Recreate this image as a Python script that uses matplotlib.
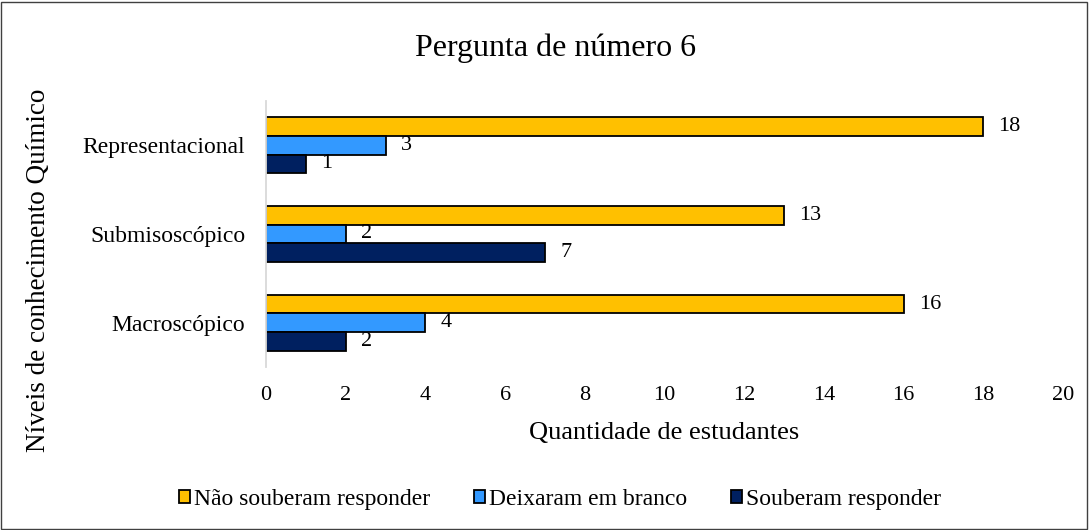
import numpy as np
import matplotlib.pyplot as plt
from matplotlib.patches import Rectangle

plt.rcParams['font.family'] = ['Liberation Serif', 'DejaVu Serif']

categorias = ['Macroscópico', 'Submisoscópico', 'Representacional']
nao_souberam = [16, 13, 18]
em_branco = [4, 2, 3]
souberam = [2, 7, 1]
series = ['Não souberam responder', 'Deixaram em branco', 'Souberam responder']
cores = ['#FFC000', '#3399FF', '#002060']

fig = plt.figure(figsize=(10.89, 5.30), dpi=100)
ax = fig.add_axes([0.2443, 0.3075, 0.7318, 0.502])

y = np.arange(len(categorias))
h = 0.21
valores = [nao_souberam, em_branco, souberam]
offsets = [h, 0, -h]
for vals, off, cor, nome in zip(valores, offsets, cores, series):
    bars = ax.barh(y + off, vals, height=h, color=cor, edgecolor='black',
                   linewidth=1.3, label=nome)
    for b, v in zip(bars, vals):
        ax.text(b.get_width() + 0.38, b.get_y() + b.get_height() / 2, str(v),
                va='center', ha='left', fontsize=16)

ax.set_xlim(0, 20)
ax.set_ylim(-0.5, 2.5)
ax.set_xticks(range(0, 21, 2))
ax.set_yticks(y)
ax.set_yticklabels(categorias)
ax.tick_params(axis='y', length=0, labelsize=17, pad=15)
ax.tick_params(axis='x', length=0, labelsize=16, pad=14)
for s in ['top', 'right', 'bottom']:
    ax.spines[s].set_visible(False)
ax.spines['left'].set_color('#D9D9D9')
ax.spines['left'].set_linewidth(1.3)

ax.set_xlabel('Quantidade de estudantes', fontsize=19)
ax.xaxis.set_label_coords(0.5, -0.248)
ax.xaxis.label.set_va('center')

fig.text(0.035, 0.49, 'Níveis de conhecimento Químico', rotation=90,
         va='center', ha='center', fontsize=19.5)
fig.text(0.51, 0.909, 'Pergunta de número 6', ha='center', va='center',
         fontsize=23)

handles, labels = ax.get_legend_handles_labels()
fig.legend(handles, labels, loc='center', bbox_to_anchor=(0.514, 0.058),
           ncol=3, frameon=False, fontsize=17, handlelength=0.47,
           handleheight=0.47, handletextpad=0.17, columnspacing=1.86,
           borderpad=0)

fig.patches.append(Rectangle((0.001, 0.002), 0.997, 0.995, transform=fig.transFigure,
                             fill=False, edgecolor='#404040', linewidth=1))

fig.savefig('out.png', dpi=100)
